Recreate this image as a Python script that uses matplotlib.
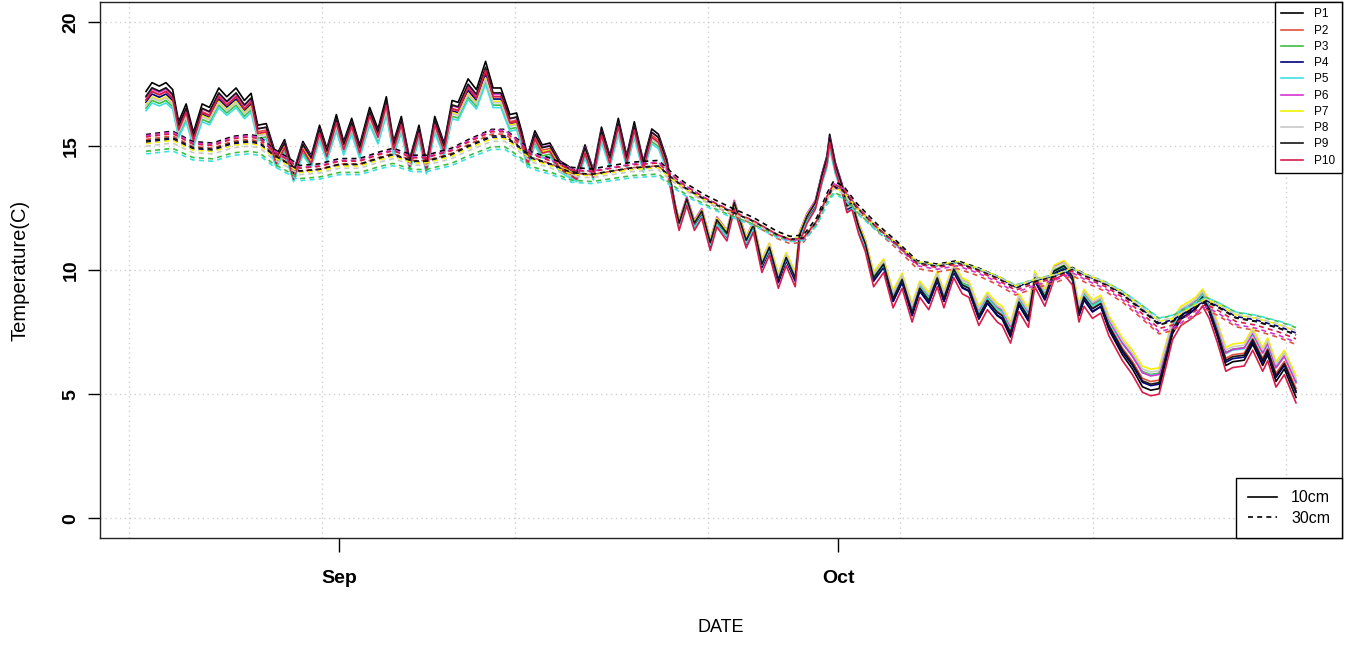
"""
Soil temperature at 10 cm and 30 cm for ten profiles, Aug-Oct 2015.
"""
import numpy as np
import matplotlib
matplotlib.use("Agg")
import matplotlib.pyplot as plt
import matplotlib.dates as mdates
from matplotlib.lines import Line2D

plt.rcParams['font.family'] = ['Liberation Sans', 'DejaVu Sans']

# time of each reading as days since 2015-08-20 00:00 (local, UTC-6)
DAYS_10 = [0.42, 0.78, 1.22, 1.62, 2.02, 2.38, 2.83, 3.27, 3.79, 4.23,
           4.79, 5.27, 5.83, 6.33, 6.73, 7.13, 7.64, 8.24, 8.74, 9.28,
           9.84, 10.34, 10.84, 11.28, 11.85, 12.29, 12.77, 13.25, 13.85, 14.35,
           14.85, 15.29, 15.75, 16.25, 16.81, 17.26, 17.76, 18.32, 18.80, 19.16,
           19.76, 20.26, 20.81, 21.26, 21.73, 22.27, 22.67, 22.97, 23.33, 23.77,
           24.21, 24.67, 25.27, 25.77, 26.28, 26.78, 27.28, 27.77, 28.27, 28.78,
           29.28, 29.74, 30.28, 30.79, 31.19, 31.69, 32.19, 32.43, 32.89, 33.35,
           33.79, 34.30, 34.70, 35.30, 35.74, 36.46, 36.89, 37.40, 37.85, 38.39,
           38.86, 39.40, 39.66, 40.11, 40.61, 41.01, 41.31, 41.47, 41.81, 42.21,
           42.51, 42.81, 43.21, 43.61, 44.11, 44.71, 45.28, 45.82, 46.42, 46.88,
           47.42, 47.93, 48.33, 48.92, 49.43, 49.83, 50.43, 50.94, 51.53, 51.83,
           52.33, 52.83, 53.40, 53.79, 54.39, 54.94, 55.54, 56.04, 56.44, 56.74,
           57.25, 57.75, 58.24, 59.05, 59.65, 60.25, 60.75, 61.25, 61.65, 62.06,
           62.56, 63.06, 63.46, 63.86, 64.26, 64.76, 65.26, 65.67, 66.36, 66.87,
           67.47, 67.77, 68.27, 68.77, 69.47]
TEMP_10 = [16.81, 17.14, 17.01, 17.14, 16.88, 15.67, 16.34, 15.27, 16.34, 16.21,
           16.94, 16.61, 16.94, 16.47, 16.74, 15.54, 15.60, 14.40, 15.00, 13.80,
           14.93, 14.40, 15.54, 14.67, 15.94, 14.93, 15.80, 14.80, 16.21, 15.40,
           16.61, 14.93, 15.87, 14.27, 15.54, 14.13, 15.87, 14.87, 16.47, 16.40,
           17.28, 16.88, 17.94, 16.94, 16.94, 15.94, 16.00, 15.33, 14.40, 15.33,
           14.80, 14.87, 14.20, 14.00, 13.80, 14.80, 13.87, 15.47, 14.40, 15.80,
           14.40, 15.67, 14.20, 15.40, 15.20, 14.27, 12.53, 11.86, 12.80, 11.86,
           12.33, 11.10, 11.99, 11.46, 12.66, 11.19, 11.79, 10.26, 10.92, 9.66,
           10.52, 9.72, 11.39, 12.13, 12.66, 13.73, 14.40, 15.20, 14.13, 13.33,
           12.53, 12.66, 11.73, 11.06, 9.72, 10.26, 8.92, 9.66, 8.38, 9.32,
           8.85, 9.72, 8.92, 10.06, 9.45, 9.32, 8.25, 8.85, 8.38, 8.25,
           7.58, 8.78, 8.18, 9.72, 8.98, 9.99, 10.19, 9.79, 8.38, 8.98,
           8.52, 8.72, 7.85, 6.91, 6.38, 5.71, 5.58, 5.64, 6.65, 7.71,
           8.25, 8.45, 8.65, 8.98, 8.52, 7.58, 6.51, 6.65, 6.71, 7.31,
           6.51, 6.91, 5.91, 6.38, 5.31]

DAYS_30 = [0.42, 2.02, 3.22, 4.43, 5.63, 6.63, 7.23, 8.03, 9.04, 9.64,
           10.84, 12.04, 13.24, 14.45, 15.25, 16.45, 17.26, 17.96, 18.76, 19.76,
           21.17, 21.97, 22.77, 23.57, 24.77, 25.98, 27.18, 28.38, 29.59, 31.19,
           31.99, 32.79, 33.99, 35.49, 36.89, 38.30, 39.10, 39.90, 40.70, 41.31,
           41.71, 42.31, 43.11, 44.32, 45.52, 46.72, 47.93, 49.13, 50.33, 51.53,
           52.63, 53.84, 55.04, 56.04, 56.84, 58.05, 59.05, 60.05, 61.25, 62.06,
           63.06, 64.06, 64.86, 65.86, 67.06, 68.46, 69.47]
TEMP_30 = [15.20, 15.33, 14.93, 14.87, 15.13, 15.20, 15.13, 14.67, 14.27, 14.00,
           14.07, 14.27, 14.27, 14.53, 14.67, 14.40, 14.40, 14.53, 14.67, 15.00,
           15.40, 15.40, 15.00, 14.53, 14.27, 13.93, 13.87, 14.00, 14.13, 14.20,
           13.73, 13.33, 12.86, 12.39, 11.99, 11.46, 11.26, 11.32, 11.99, 12.93,
           13.40, 13.20, 12.53, 11.73, 11.06, 10.32, 10.19, 10.32, 10.06, 9.72,
           9.32, 9.59, 9.79, 10.06, 9.79, 9.45, 9.05, 8.52, 7.85, 7.98,
           8.38, 8.78, 8.52, 8.12, 7.98, 7.71, 7.45]

PROFILES = ['P1', 'P2', 'P3', 'P4', 'P5', 'P6', 'P7', 'P8', 'P9', 'P10']
COLORS = ['#000000', '#E0503C', '#3DBE3D', '#00007A', '#3FE0E0',
          '#D633D0', '#F2F200', '#C8C8C8', '#151515', '#D81B4A']

# departure of each profile from the curves above, warm spell vs cold spell
DEV10_WARM = [0.40, 0.05, -0.30, -0.05, -0.40, 0.15, -0.15, -0.20, 0.20, 0.05]
DEV10_COLD = [-0.25, -0.05, 0.10, -0.20, 0.05, 0.15, 0.30, 0.20, -0.10, -0.50]
DEV30_WARM = [0.25, 0.05, -0.40, -0.05, -0.50, 0.20, -0.10, -0.20, 0.00, 0.15]
DEV30_COLD = [0.00, -0.35, 0.10, 0.00, 0.10, -0.25, 0.05, 0.05, -0.05, -0.15]

START = np.datetime64('2015-08-20T00:00')
UTC_OFFSET_H = -6


def to_num(days):
    mins = np.round(np.asarray(days) * 1440).astype('timedelta64[m]')
    return mdates.date2num(START + mins)


def profile_curve(base, warm, cold, t_warm, t_cold):
    base = np.asarray(base)
    return base + cold + (warm - cold) * (base - t_cold) / (t_warm - t_cold)


fig = plt.figure(figsize=(13.52, 6.45), dpi=100)
ax = fig.add_axes([100 / 1352, 107 / 645, 1242 / 1352, 536 / 645])

x10 = to_num(DAYS_10)
x30 = to_num(DAYS_30)

for i, name in enumerate(PROFILES):
    ax.plot(x10, profile_curve(TEMP_10, DEV10_WARM[i], DEV10_COLD[i], 17, 8),
            color=COLORS[i], lw=1.2, zorder=3)
for i, name in enumerate(PROFILES):
    ax.plot(x30, profile_curve(TEMP_30, DEV30_WARM[i], DEV30_COLD[i], 15, 9),
            color=COLORS[i], lw=1.2, ls=(0, (3, 2.5)), zorder=3)

# axis ranges padded 4% like base R
xmin, xmax = x10.min(), x10.max()
pad = 0.04 * (xmax - xmin)
ax.set_xlim(xmin - pad, xmax + pad)
ax.set_ylim(-0.8, 20.8)

# dotted grid: horizontal at the y ticks, vertical every 1e6 s of epoch time
grid_style = dict(color='#CFCFCF', lw=1.0, ls=(0, (1, 2.5)), zorder=1)
for yv in [0, 5, 10, 15, 20]:
    ax.axhline(yv, **grid_style)
for sec in np.arange(1.439e9, 1.448e9, 1e6):
    t = np.datetime64(int(sec + UTC_OFFSET_H * 3600), 's')
    ax.axvline(mdates.date2num(t), **grid_style)

ax.set_xticks(mdates.date2num(np.array(['2015-09-01', '2015-10-01'],
                                       dtype='datetime64[m]')))
ax.set_xticklabels(['Sep', 'Oct'], fontsize=14, fontweight='bold')
ax.set_yticks([0, 5, 10, 15, 20])
ax.set_yticklabels(['0', '5', '10', '15', '20'], fontsize=14,
                   fontweight='bold', rotation=90, va='center')
ax.tick_params(axis='x', length=10, width=1, pad=13)
ax.tick_params(axis='y', length=8.6, width=1, pad=6)
for sp in ax.spines.values():
    sp.set_linewidth(1.0)
    sp.set_color('#222222')

ax.set_xlabel('DATE', fontsize=13, va='center')
ax.xaxis.set_label_coords(0.5, (538 - 628) / 536)
ax.set_ylabel('Temperature(C)', fontsize=14.5, va='center')
ax.yaxis.set_label_coords((20 - 100) / 1242, 0.5)

handles = [Line2D([], [], color=c, lw=1.2) for c in COLORS]
leg1 = ax.legend(handles, PROFILES, loc='upper right', fontsize=8.5,
                 fancybox=False, edgecolor='black', framealpha=1,
                 borderaxespad=0, handlelength=1.8, handletextpad=1.0,
                 labelspacing=0.36, borderpad=0.55)
leg1.get_frame().set_linewidth(1.0)
ax.add_artist(leg1)

depth_handles = [Line2D([], [], color='black', lw=1.2),
                 Line2D([], [], color='black', lw=1.2, ls=(0, (3, 2.5)))]
leg2 = ax.legend(depth_handles, ['10cm', '30cm'], loc='lower right',
                 fontsize=11.5, fancybox=False, edgecolor='black',
                 framealpha=1, borderaxespad=0, handlelength=1.8,
                 handletextpad=0.9, labelspacing=0.35, borderpad=0.75)
leg2.get_frame().set_linewidth(1.0)

fig.savefig('out.png', dpi=100)
